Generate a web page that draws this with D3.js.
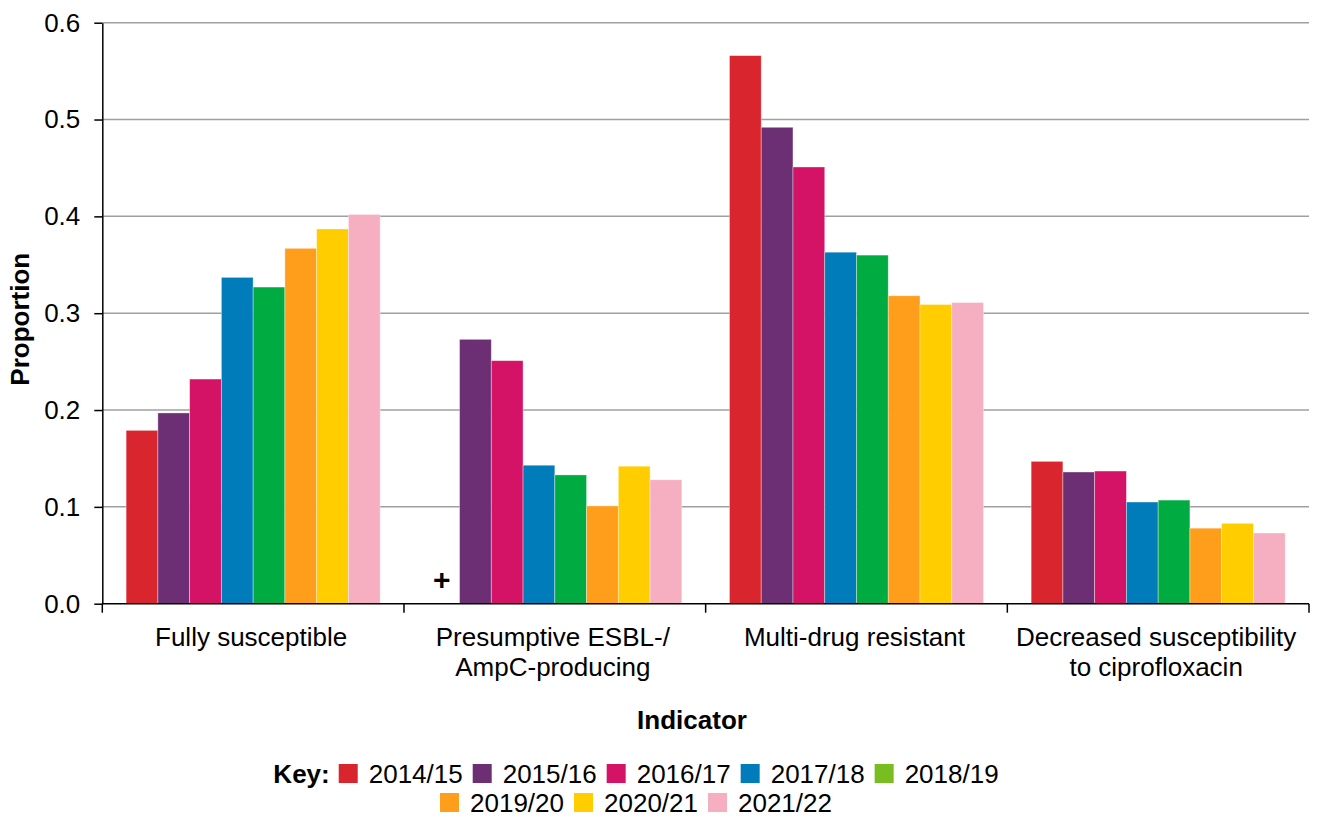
<!DOCTYPE html>
<html>
<head>
<meta charset="utf-8">
<script src="https://cdn.jsdelivr.net/npm/d3@7"></script>
<style>
  html, body { margin: 0; padding: 0; background: #fff; }
  svg { display: block; font-family: "Liberation Sans", Arial, sans-serif; }
</style>
</head>
<body>
<svg id="chart" width="1320" height="817"></svg>
<script>
// ---- Data ----
const categories = [
  ["Fully susceptible"],
  ["Presumptive ESBL-/", "AmpC-producing"],
  ["Multi-drug resistant"],
  ["Decreased susceptibility", "to ciprofloxacin"]
];
const years = ["2014/15", "2015/16", "2016/17", "2017/18", "2018/19", "2019/20", "2020/21", "2021/22"];
// values per year, one per category (null = suppressed, shown as +)
const v2014 = [0.179, null, 0.566, 0.147];
const v2015 = [0.197, 0.273, 0.492, 0.136];
const v2016 = [0.232, 0.251, 0.451, 0.137];
const v2017 = [0.337, 0.143, 0.363, 0.105];
const v2018 = [0.327, 0.133, 0.360, 0.107];
const v2019 = [0.367, 0.101, 0.318, 0.078];
const v2020 = [0.387, 0.142, 0.309, 0.083];
const v2021 = [0.402, 0.128, 0.311, 0.073];
const seriesValues = [v2014, v2015, v2016, v2017, v2018, v2019, v2020, v2021];
const barColors = ["#D9262E", "#6C2F73", "#D41367", "#007CBA", "#00AC41", "#FF9E1B", "#FFCD00", "#F6AFC0"];
const legendColors = ["#D9262E", "#6C2F73", "#D41367", "#007CBA", "#78BE20", "#FF9E1B", "#FFCD00", "#F6AFC0"];
const yTicks = [0.0, 0.1, 0.2, 0.3, 0.4, 0.5, 0.6];

// ---- Layout ----
const svg = d3.select("#chart");
const mLeft = 102.3, mRight = 1309, mTop = 22.7, mBottom = 603.7;
const FS = 26;

const x0 = d3.scaleBand().domain(d3.range(categories.length)).range([mLeft, mRight]).padding(0);
const x1 = d3.scaleBand().domain(years).range([0, x0.bandwidth()]).paddingInner(0).paddingOuter(0.75);
const y = d3.scaleLinear().domain([0, 0.6]).range([mBottom, mTop]);

// gridlines
svg.append("g").selectAll("line").data(yTicks.filter(d => d > 0)).join("line")
  .attr("x1", mLeft).attr("x2", mRight)
  .attr("y1", d => y(d)).attr("y2", d => y(d))
  .attr("stroke", "#A0A0A0").attr("stroke-width", 1.5);

// bars
const barData = [];
years.forEach((yr, i) => {
  seriesValues[i].forEach((v, c) => barData.push({yr, i, c, v}));
});
svg.append("g").selectAll("rect").data(barData.filter(d => d.v !== null)).join("rect")
  .attr("x", d => x0(d.c) + x1(d.yr))
  .attr("width", x1.bandwidth())
  .attr("y", d => y(d.v))
  .attr("height", d => y(0) - y(d.v))
  .attr("fill", d => barColors[d.i])
  .attr("stroke", "rgba(255,255,255,0.45)")
  .attr("stroke-width", 0.8);

// suppressed marker
svg.append("g").selectAll("text").data(barData.filter(d => d.v === null)).join("text")
  .attr("x", d => x0(d.c) + x1(d.yr) + x1.bandwidth() / 2 - 2)
  .attr("y", y(0) - 14)
  .attr("text-anchor", "middle")
  .attr("font-size", 30).attr("font-weight", "bold")
  .attr("fill", "#000")
  .text("+");

// y axis
const yAxis = d3.axisLeft(y).tickValues(yTicks).tickFormat(d3.format(".1f")).tickSizeOuter(0).tickSizeInner(8).tickPadding(14);
const ya = svg.append("g").attr("transform", `translate(${mLeft},0)`).call(yAxis);
ya.select(".domain").attr("stroke", "#000").attr("stroke-width", 1.5);
ya.selectAll(".tick line").attr("stroke", "#000").attr("stroke-width", 1.5);
ya.selectAll(".tick text").attr("font-size", FS).attr("fill", "#000")
  .attr("font-family", "'Liberation Sans', Arial, sans-serif");

// x axis (group boundary ticks)
const bounds = d3.range(categories.length + 1).map(i => i < categories.length ? x0(i) : mRight);
svg.append("line").attr("x1", mLeft).attr("x2", mRight).attr("y1", mBottom).attr("y2", mBottom)
  .attr("stroke", "#000").attr("stroke-width", 1.5);
svg.append("g").selectAll("line").data(bounds).join("line")
  .attr("x1", d => d).attr("x2", d => d).attr("y1", mBottom).attr("y2", mBottom + 9)
  .attr("stroke", "#000").attr("stroke-width", 1.5);

// category labels
const catG = svg.append("g");
categories.forEach((lines, c) => {
  const cxm = x0(c) + x0.bandwidth() / 2 - 2;
  const t = catG.append("text")
    .attr("x", cxm)
    .attr("y", 646)
    .attr("text-anchor", "middle")
    .attr("font-size", FS).attr("fill", "#000");
  lines.forEach((ln, k) => {
    t.append("tspan").attr("x", cxm).attr("dy", k === 0 ? 0 : 30).text(ln);
  });
});

// axis titles
svg.append("text").attr("x", 692).attr("y", 729).attr("text-anchor", "middle")
  .attr("font-size", FS).attr("font-weight", "bold").attr("fill", "#000").text("Indicator");
svg.append("text").attr("transform", `translate(29,${(mTop + mBottom) / 2 + 6}) rotate(-90)`)
  .attr("text-anchor", "middle")
  .attr("font-size", FS).attr("font-weight", "bold").attr("fill", "#000").text("Proportion");

// legend
const legend = svg.append("g");
const rows = [[-1, 0, 1, 2, 3, 4], [5, 6, 7]];
const rowBase = [783, 812];
const centerX = 636;
rows.forEach((row, r) => {
  const g = legend.append("g");
  let cx = 0;
  row.forEach((i, k) => {
    if (i === -1) {
      const t = g.append("text").attr("x", cx).attr("y", rowBase[r])
        .attr("font-size", FS).attr("font-weight", "bold").attr("fill", "#000").text("Key:");
      cx += t.node().getComputedTextLength() + 9;
    } else {
      g.append("rect").attr("x", cx).attr("y", rowBase[r] - 19).attr("width", 19).attr("height", 19)
        .attr("fill", legendColors[i]);
      cx += 30;
      const t = g.append("text").attr("x", cx).attr("y", rowBase[r])
        .attr("font-size", FS).attr("fill", "#000").text(years[i]);
      cx += t.node().getComputedTextLength() + (k < row.length - 1 ? 10 : 0);
    }
  });
  g.attr("transform", `translate(${centerX - cx / 2},0)`);
});
</script>
</body>
</html>
